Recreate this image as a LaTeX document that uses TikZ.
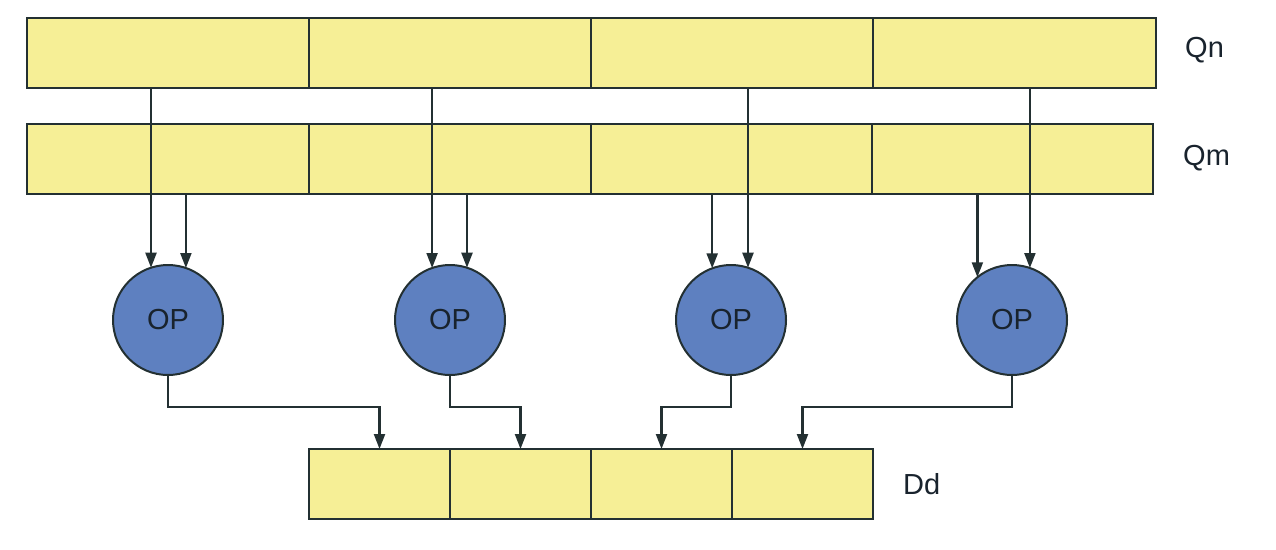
\documentclass[tikz,border=0pt]{standalone}
\usepackage{fontspec}
\setmainfont{Liberation Sans}
\usetikzlibrary{arrows.meta}
\definecolor{cellyellow}{RGB}{246,239,150}
\definecolor{opblue}{RGB}{94,128,192}
\definecolor{edge}{RGB}{35,48,50}
\definecolor{txt}{RGB}{25,35,45}
\begin{document}
\begin{tikzpicture}[x=1pt,y=-1pt,
  cell/.style={draw=edge,line width=2.2pt,fill=cellyellow,minimum height=70pt,inner sep=0pt,outer sep=0pt,anchor=north west},
  opnode/.style={circle,draw=edge,line width=2pt,fill=opblue,minimum size=110pt,inner sep=0pt,outer sep=0pt,text=txt,font=\fontsize{29}{31}\selectfont},
  lbl/.style={anchor=west,text=txt,font=\fontsize{29}{31}\selectfont,inner sep=0pt},
  arr/.style={draw=edge,line width=2.2pt,-{Stealth[length=15pt,width=11pt,inset=0pt]}}]
\useasboundingbox (0,0) rectangle (1276,549);
% Qn
\node[cell,minimum width=282pt] (Qn1) at (27,18) {};
\node[cell,minimum width=282pt] (Qn2) at (309,18) {};
\node[cell,minimum width=282pt] (Qn3) at (591,18) {};
\node[cell,minimum width=283pt] (Qn4) at (873,18) {};
% Qm
\node[cell,minimum width=282pt] (Qm1) at (27,124) {};
\node[cell,minimum width=282pt] (Qm2) at (309,124) {};
\node[cell,minimum width=281pt] (Qm3) at (591,124) {};
\node[cell,minimum width=281pt] (Qm4) at (872,124) {};
% Dd
\node[cell,minimum width=141pt] (Dd1) at (309,449) {};
\node[cell,minimum width=141pt] (Dd2) at (450,449) {};
\node[cell,minimum width=141pt] (Dd3) at (591,449) {};
\node[cell,minimum width=141pt] (Dd4) at (732,449) {};
% labels
\node[lbl] (lQn) at (1185,50) {Qn};
\node[lbl] (lQm) at (1183,158) {Qm};
\node[lbl] (lDd) at (903,484) {Dd};
% OP circles
\node[opnode] (op1) at (168,320) {OP};
\node[opnode] (op2) at (450,320) {OP};
\node[opnode] (op3) at (731,320) {OP};
\node[opnode] (op4) at (1012,320) {OP};
% inputs
\draw[arr] (op1.108 |- Qn1.south) -- (op1.108);
\draw[arr] (op1.71 |- Qm1.south) -- (op1.71);
\draw[arr] (op2.109 |- Qn2.south) -- (op2.109);
\draw[arr] (op2.72 |- Qm2.south) -- (op2.72);
\draw[arr] (op3.110 |- Qm3.south) -- (op3.110);
\draw[arr] (op3.72 |- Qn3.south) -- (op3.72);
\draw[arr] (op4.129.5 |- Qm4.south) -- (op4.129.5);
\draw[arr] (op4.71 |- Qn4.south) -- (op4.71);
% outputs
\coordinate (h) at (0,407);
\draw[arr] (op1.south) -- (op1.south |- h) -| (Dd1.north);
\draw[arr] (op2.south) -- (op2.south |- h) -| (Dd2.north);
\draw[arr] (op3.south) -- (op3.south |- h) -| (Dd3.north);
\draw[arr] (op4.south) -- (op4.south |- h) -| (Dd4.north);
\end{tikzpicture}
\end{document}
